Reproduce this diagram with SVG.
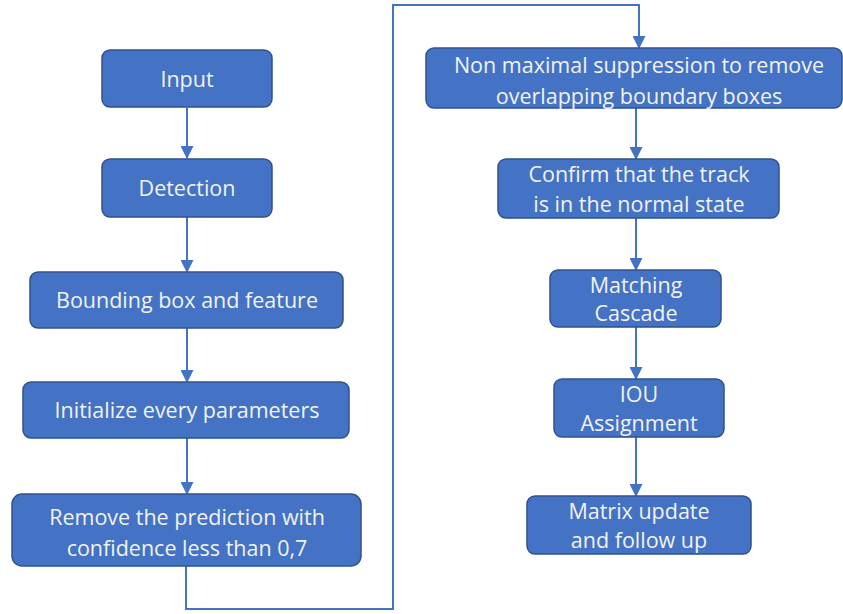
<svg xmlns="http://www.w3.org/2000/svg" width="843" height="614" viewBox="0 0 843 614">
<style>
.box{fill:#4472C4;stroke:#2F528F;stroke-width:1.5}
.t{font-family:"Open Sans","Liberation Sans",sans-serif;font-size:21.5px;fill:#F2F2F2;text-anchor:middle}
.c{fill:none;stroke:#4472C4;stroke-width:2}
</style>
<defs>
<marker id="ah" markerWidth="13" markerHeight="13" refX="12" refY="6.5" orient="auto" markerUnits="userSpaceOnUse" viewBox="0 0 13 13">
<path d="M0,0 L13,6.5 L0,13 z" fill="#4472C4"/>
</marker>
</defs>
<rect width="843" height="614" fill="#FFFFFF"/>
<g id="connectors">
<line class="c" x1="187" y1="108" x2="187" y2="158" marker-end="url(#ah)"/>
<line class="c" x1="187" y1="217" x2="187" y2="272" marker-end="url(#ah)"/>
<line class="c" x1="187" y1="328" x2="187" y2="382" marker-end="url(#ah)"/>
<line class="c" x1="187" y1="438" x2="187" y2="494" marker-end="url(#ah)"/>
<polyline class="c" points="186,566 186,609 393,609 393,5 639,5 639,48" marker-end="url(#ah)"/>
<line class="c" x1="636" y1="108" x2="636" y2="159" marker-end="url(#ah)"/>
<line class="c" x1="636" y1="218" x2="636" y2="270" marker-end="url(#ah)"/>
<line class="c" x1="636" y1="327" x2="636" y2="379" marker-end="url(#ah)"/>
<line class="c" x1="636" y1="437" x2="636" y2="496" marker-end="url(#ah)"/>
</g>
<g id="input"><rect class="box" x="102" y="50" width="170" height="57" rx="8"/><text class="t" x="187" y="87">Input</text></g>
<g id="detection"><rect class="box" x="102" y="159" width="170" height="58" rx="8"/><text class="t" x="187" y="196">Detection</text></g>
<g id="bbox"><rect class="box" x="30" y="272" width="313" height="56" rx="8"/><text class="t" x="187" y="308">Bounding box and feature</text></g>
<g id="init"><rect class="box" x="23" y="382" width="326" height="56" rx="8"/><text class="t" x="187" y="418">Initialize every parameters</text></g>
<g id="remove"><rect class="box" x="12" y="494" width="349" height="72" rx="10"/><text class="t" x="187" y="525">Remove the prediction with</text><text class="t" x="187" y="556">confidence less than 0,7</text></g>
<g id="nms"><rect class="box" x="426" y="48" width="416" height="60" rx="8"/><text class="t" x="639" y="73">Non maximal suppression to remove</text><text class="t" x="639" y="104">overlapping boundary boxes</text></g>
<g id="confirm"><rect class="box" x="498" y="159" width="281" height="59" rx="8"/><text class="t" x="639" y="182">Confirm that the track</text><text class="t" x="639" y="212">is in the normal state</text></g>
<g id="matching"><rect class="box" x="550" y="270" width="171" height="57" rx="8"/><text class="t" x="636" y="293">Matching</text><text class="t" x="636" y="321">Cascade</text></g>
<g id="iou"><rect class="box" x="554" y="379" width="170" height="58" rx="8"/><text class="t" x="639" y="402">IOU</text><text class="t" x="639" y="431">Assignment</text></g>
<g id="matrix"><rect class="box" x="527" y="496" width="224" height="58" rx="8"/><text class="t" x="639" y="519">Matrix update</text><text class="t" x="639" y="548">and follow up</text></g>
</svg>
